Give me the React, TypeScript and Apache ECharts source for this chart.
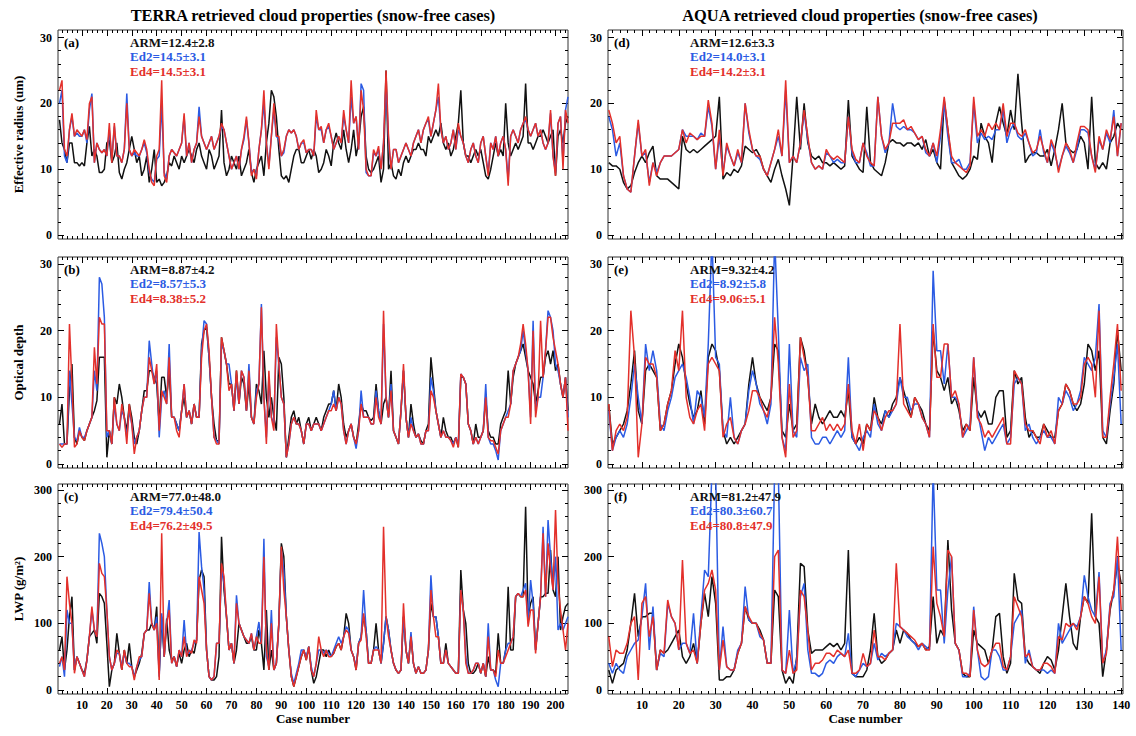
import React, { useEffect, useRef } from 'react';
import * as echarts from 'echarts';

// ---------------- DATA ----------------
const terraXTicks = [10, 20, 30, 40, 50, 60, 70, 80, 90, 100, 110, 120, 130, 140, 150, 160, 170, 180, 190, 200];
const aquaXTicks = [10, 20, 30, 40, 50, 60, 70, 80, 90, 100, 110, 120, 130, 140];
const reTicks = [0, 10, 20, 30];
const tauTicks = [0, 10, 20, 30];
const lwpTicks = [0, 100, 200, 300];

const terraTitle = 'TERRA retrieved cloud properties (snow-free cases)';
const aquaTitle = 'AQUA retrieved cloud properties (snow-free cases)';
const yNames = ['Effective radius (um)', 'Optical depth', 'LWP (g/m²)'];
const panelLetters = ['(a)', '(b)', '(c)', '(d)', '(e)', '(f)'];
const statsArm = ['ARM=12.4±2.8', 'ARM=8.87±4.2', 'ARM=77.0±48.0', 'ARM=12.6±3.3', 'ARM=9.32±4.2', 'ARM=81.2±47.9'];
const statsEd2 = ['Ed2=14.5±3.1', 'Ed2=8.57±5.3', 'Ed2=79.4±50.4', 'Ed2=14.0±3.1', 'Ed2=8.92±5.8', 'Ed2=80.3±60.7'];
const statsEd4 = ['Ed4=14.5±3.1', 'Ed4=8.38±5.2', 'Ed4=76.2±49.5', 'Ed4=14.2±3.1', 'Ed4=9.06±5.1', 'Ed4=80.8±47.9'];

// TERRA effective radius
const terraReArm = [
  17.5, 14, 13, 11, 14, 14, 11, 11, 10.5, 11,
  10.5, 14, 16.5, 12, 13, 12, 9.5, 9.5, 10, 14,
  14.5, 11, 12, 14, 9.5, 8.5, 10, 11, 13, 15,
  13, 11, 12, 9, 10, 12, 8, 10, 13, 8,
  8.5, 7.5, 8, 9, 11, 10.5, 12, 11, 10, 12,
  11, 12, 13, 12, 11, 13, 14, 12, 11, 10,
  13, 12, 10, 11, 12, 19, 11, 9, 10, 12,
  11, 10, 12, 9, 10, 11, 13, 9.5, 8, 10,
  11, 12, 9, 14, 17, 22, 21, 18, 13, 9,
  8.5, 9, 8, 10, 12, 13, 13, 11, 11, 12,
  13, 11.5, 13, 12, 9.5, 10, 11, 13, 12, 10.5,
  14, 15.5, 14, 13, 16, 13, 11, 13, 16, 12,
  14, 18, 19.5, 12, 10, 9.5, 10, 11, 12, 8,
  10, 25, 10, 11, 9, 8.5, 10, 9, 11, 12,
  11, 12, 13, 13, 14, 13, 13, 12, 15, 14,
  15, 16, 15, 17, 14, 13, 14, 12, 13, 15,
  17, 22, 14, 12, 12, 11, 12, 13, 12, 13,
  11, 9, 8.5, 10, 12, 14, 12, 13, 12, 20,
  14, 12, 13, 14, 13, 14, 15, 23, 14, 14,
  13, 14, 15, 15, 16, 15, 14, 15, 16, 9,
  15, 16, 14, 17, 18,
];
const terraReEd2 = [
  20, 22, 12, 11, 16, 18, 15, 15.5, 15, 15,
  16, 14, 19, 21.5, 11, 14, 13, 12.5, 13, 12,
  16, 11.5, 16.5, 12, 12, 11, 13, 21.5, 13, 12,
  12.5, 12, 12, 13, 14, 12.5, 9.5, 8.5, 8, 11.5,
  12, 20, 9.5, 8.5, 12, 13, 12.5, 12, 13, 14,
  18, 12, 14, 11, 13, 14, 19.5, 15, 14, 13,
  14, 15, 13, 14, 15, 16.5, 16, 14, 12, 10,
  11, 12, 10, 13, 14.5, 17.5, 14, 9.5, 10, 9,
  13, 16, 20, 14, 10.5, 15, 19, 15, 14.5, 12,
  12.5, 15, 16, 15.5, 16, 15, 13, 14, 14, 12.5,
  13, 13, 12, 18, 16, 16, 14, 16, 16.5, 15,
  13, 14, 15, 14, 18, 16, 14, 21, 17, 18,
  13, 23, 22, 9.5, 9, 9, 12.5, 12, 13, 10,
  14, 23, 14.5, 10, 13, 13, 11, 12, 13, 14,
  13, 12, 14, 15, 16, 14, 16, 17, 17.5, 15,
  17, 19, 21, 16, 14, 15, 13, 14, 16, 13,
  16, 15, 14, 12, 11, 13, 14, 12, 11, 14,
  15, 12, 9.5, 14, 13, 15, 12, 14, 15, 13,
  8.5, 15, 16, 15, 14, 16, 17, 17.5, 16, 15,
  16, 17, 15, 16, 14, 13, 14, 18.5, 12, 9.5,
  17, 18, 11, 19, 21,
];
const terraReEd4 = [
  22, 23.5, 13, 12, 16, 18.5, 15, 16, 15.5, 15,
  16, 14.5, 20, 21, 11, 14, 13, 12.5, 13, 12,
  17, 11, 17, 12, 12, 11, 13, 20, 13, 12,
  13, 12.5, 12, 13, 14.5, 13, 10, 8, 7.5, 12,
  13, 23.5, 9, 8, 12, 13, 12.5, 12, 13, 14,
  18.5, 12, 14, 11, 13, 14, 18, 15, 14, 13,
  14, 15, 13, 14, 15, 17, 16, 14, 12, 10,
  11, 12, 10, 13, 15, 18, 14, 9, 10, 8.5,
  13, 16, 22, 14, 10, 15, 20, 15, 15, 12,
  13, 15, 16, 15.5, 16, 15, 13, 14, 14.5, 12.5,
  13, 13, 12, 19, 16, 16.5, 14, 16, 17, 15,
  13, 14, 15, 14, 19, 16, 14, 23.5, 17, 18,
  13, 22, 19, 10, 9, 9, 13, 12, 13.5, 10,
  14, 25, 15, 10, 13, 13, 11, 12, 13, 14,
  13, 12, 14, 15, 16, 14, 16, 17, 18, 15,
  17, 19, 23, 16, 14, 15, 13, 14, 16, 13,
  17, 15, 14, 12, 11, 13, 14, 12, 11, 14,
  15, 12, 9, 14, 13, 15, 12, 14, 15, 13,
  7.5, 15, 16, 15, 14, 16, 17, 18, 16, 15,
  16, 17, 15, 16, 14, 13, 14, 19, 12, 9,
  17, 18, 10, 19, 17,
];

// TERRA optical depth
const terraTauArm = [
  6, 9, 3, 3, 11, 15, 4, 3, 5, 4,
  3.5, 5, 6, 7, 8, 9.5, 16, 16, 16, 1,
  5, 3, 10, 9, 12, 10, 7, 5, 9, 7,
  4, 3, 5, 8, 11, 11, 14, 14, 13, 12,
  6, 13, 13, 10, 14, 7, 7, 6, 5, 8,
  10, 7, 8, 6, 9, 7, 7, 18, 20, 20.5,
  16, 10, 6, 3.5, 3.5, 19, 17, 15, 12, 12,
  8, 14, 9, 13, 12, 8, 12, 7, 6, 12,
  11, 9, 17, 10, 7, 10, 7, 5, 16, 15,
  10, 1, 4, 7, 8, 6, 7, 5, 3, 6,
  7, 5, 6, 7, 6, 5, 7, 8, 9, 9,
  11, 8, 12, 10, 6, 4, 5, 6, 4, 3,
  6, 9, 8, 8, 7, 6.5, 7, 12, 8, 6,
  9, 10, 7, 14, 5, 4, 3, 8, 14, 7,
  4, 9, 6, 4, 4.5, 3.5, 3, 5, 6, 16,
  12, 8, 6, 4, 7, 5, 4, 4, 3, 4,
  2.5, 13, 13, 12, 6, 5, 3, 6, 4, 4,
  5, 10, 5, 4, 4, 3, 3, 6, 7, 8,
  14, 9, 13, 15, 16, 17, 18, 16, 14, 13,
  12, 9, 11, 13, 13, 16, 17, 15, 17, 14,
  15, 12, 10, 13, 8,
];
const terraTauEd2 = [
  3, 3, 3, 3, 14, 9, 4, 3.5, 5.5, 4,
  4, 5, 6, 7, 14, 11, 28, 27, 22, 4,
  5, 3, 9, 6, 5, 8, 7, 4, 8, 6,
  3, 4, 5, 8, 10, 10, 18.5, 15, 12, 14,
  4, 10, 11, 9, 18, 7, 7, 6, 5, 8,
  12, 7, 8, 6, 9, 7, 7, 17, 21.5, 21,
  16, 10, 4, 3.5, 3, 18, 17, 15, 15, 12,
  8, 13, 9, 14, 13, 8, 15, 7, 6, 11,
  12, 24, 10, 4, 13, 7, 6, 19, 15, 10,
  9, 1, 3, 6, 7, 6, 6, 5, 3, 6,
  6, 5, 6, 6, 6, 5, 6, 7, 8, 9,
  11, 8, 10, 9, 5, 3, 5, 6, 4, 2.3,
  5, 11, 7, 7, 7, 6, 6, 11, 8, 6,
  21, 10, 7, 12, 5, 4, 3, 8, 14, 7,
  4, 7, 5, 4, 4.5, 3, 3, 5, 5, 13,
  11, 8, 6, 4, 5, 4, 4, 3.5, 3, 4,
  3, 13.5, 13, 12, 6, 5, 3, 4, 3, 4,
  5, 12, 4, 3, 3, 2, 0.6, 5, 6, 7,
  8, 9, 14, 15, 16, 17, 20, 17, 14, 7,
  21.5, 8, 10, 10, 13, 17, 23, 22, 20, 15,
  14, 12, 10, 13, 7,
];
const terraTauEd4 = [
  3, 2.5, 3, 3, 21, 12, 2.5, 3, 5, 4,
  3.5, 5, 6, 7, 17.5, 12, 22, 21, 21, 5,
  5, 3, 10, 6, 5, 9, 7, 3, 9, 6,
  1.5, 4, 5, 8, 10, 10, 16, 14, 12, 15,
  5, 11, 10, 9, 16, 7, 7, 5, 4, 8,
  12, 7, 8, 6, 9, 7, 7, 16, 20, 21,
  17, 10, 4, 3, 3, 19, 17, 15, 11, 12,
  8, 14, 9, 14, 13, 8, 14, 7, 6, 10,
  12, 23.5, 10, 3, 14, 7, 5, 21, 15, 10,
  9, 1, 3, 6, 7, 6, 6, 5, 3, 6,
  6, 5, 6, 6, 6, 5, 6, 7, 8, 8,
  9, 8, 10, 9, 5, 3, 5, 6, 4, 3,
  5, 9, 7, 7, 7, 6, 6, 10, 7, 6,
  23, 10, 7, 11, 5, 4, 3, 8, 15, 7,
  4, 6, 5, 4, 4.5, 3, 3, 5, 5, 11,
  10, 8, 6, 4, 5, 4, 4, 3.5, 2.5, 4,
  2.5, 13.5, 13, 12, 6, 5, 3, 4, 3, 4,
  5, 10, 4, 3.5, 3.5, 2.5, 1.5, 5, 6, 7,
  7, 9, 14, 15, 16, 18, 21, 18, 14, 6,
  20, 7, 10, 21.5, 13, 17, 22, 22, 19, 17,
  15, 12, 10, 13, 5,
];

// TERRA LWP
const terraLwpArm = [
  60, 80, 30, 60, 110, 140, 30, 50, 40, 30,
  25, 45, 80, 85, 90, 70, 145, 140, 130, 70,
  5, 30, 40, 85, 55, 30, 60, 40, 70, 35,
  20, 30, 40, 55, 85, 90, 90, 100, 90, 125,
  25, 110, 50, 107, 60, 45, 50, 35, 55, 40,
  60, 70, 50, 60, 55, 75, 165, 180, 170, 60,
  20, 15, 15, 20, 50, 230, 150, 110, 60, 70,
  40, 60, 100, 90, 80, 70, 70, 80, 60, 60,
  90, 70, 30, 120, 30, 60, 30, 40, 100, 220,
  200, 110, 60, 20, 5, 20, 35, 50, 60, 45,
  65, 30, 10, 20, 40, 60, 60, 50, 60, 50,
  55, 65, 70, 60, 80, 115, 100, 60, 50, 30,
  70, 80, 110, 90, 40, 40, 60, 100, 60, 40,
  70, 110, 90, 60, 40, 30, 25, 30, 110, 60,
  40, 80, 40, 25, 35, 25, 25, 30, 60, 130,
  110, 110, 80, 40, 40, 70, 40, 35, 30, 25,
  25, 180, 120, 100, 40, 25, 25, 30, 40, 25,
  40, 20, 50, 30, 30, 25, 85, 40, 40, 60,
  155, 60, 60, 140, 145, 140, 140, 275, 110, 130,
  140, 60, 100, 140, 140, 145, 145, 210, 150, 140,
  200, 90, 110, 125, 130,
];
const terraLwpEd2 = [
  35, 50, 20, 120, 100, 100, 30, 50, 40, 30,
  20, 45, 80, 120, 90, 80, 235, 220, 200, 120,
  50, 30, 40, 55, 55, 35, 55, 40, 40, 35,
  20, 35, 45, 50, 85, 90, 162, 100, 90, 110,
  20, 115, 50, 100, 135, 40, 50, 35, 60, 50,
  105, 55, 55, 60, 70, 75, 237, 185, 150, 60,
  20, 15, 20, 70, 70, 180, 160, 110, 60, 70,
  40, 142, 100, 90, 80, 75, 70, 85, 60, 80,
  102, 70, 227, 50, 35, 120, 30, 40, 100, 210,
  180, 110, 60, 25, 10, 25, 40, 60, 60, 50,
  65, 35, 20, 40, 60, 60, 55, 60, 55, 50,
  60, 70, 80, 70, 80, 95, 90, 60, 50, 35,
  70, 80, 150, 90, 40, 40, 60, 65, 60, 40,
  70, 110, 90, 60, 40, 30, 25, 30, 110, 60,
  40, 87, 40, 25, 35, 25, 25, 30, 60, 172,
  110, 110, 80, 40, 40, 60, 40, 35, 30, 25,
  25, 150, 120, 50, 25, 25, 30, 40, 40, 25,
  40, 20, 100, 30, 30, 15, 5, 40, 40, 60,
  70, 70, 80, 140, 145, 140, 150, 160, 100, 165,
  130, 60, 100, 140, 245, 140, 255, 200, 150, 200,
  90, 100, 90, 100, 110,
];
const terraLwpEd4 = [
  40, 50, 30, 170, 130, 100, 25, 50, 40, 30,
  20, 45, 80, 125, 90, 80, 190, 175, 170, 120,
  50, 30, 40, 60, 55, 30, 60, 40, 35, 35,
  15, 35, 50, 50, 85, 90, 145, 100, 90, 100,
  15, 235, 50, 100, 120, 40, 50, 35, 60, 50,
  80, 50, 60, 55, 75, 70, 170, 150, 130, 60,
  20, 15, 20, 70, 70, 190, 170, 110, 60, 70,
  40, 130, 100, 90, 80, 75, 70, 85, 60, 80,
  70, 70, 200, 60, 30, 100, 30, 40, 100, 215,
  150, 110, 60, 20, 5, 20, 35, 50, 60, 45,
  65, 30, 20, 40, 80, 60, 50, 60, 50, 50,
  55, 65, 70, 60, 80, 90, 85, 60, 50, 30,
  70, 75, 115, 80, 40, 40, 60, 60, 60, 40,
  245, 110, 80, 60, 40, 30, 25, 30, 130, 60,
  40, 80, 40, 25, 35, 25, 25, 30, 60, 150,
  110, 80, 80, 40, 40, 60, 40, 35, 30, 25,
  25, 150, 120, 40, 25, 25, 30, 40, 40, 25,
  40, 20, 80, 30, 30, 20, 60, 40, 40, 50,
  60, 70, 80, 140, 145, 140, 140, 150, 95, 120,
  120, 55, 100, 140, 235, 140, 220, 180, 150, 270,
  160, 120, 90, 60, 100,
];

// AQUA effective radius
const aquaReArm = [
  11, 10.5, 10.5, 10, 8, 7, 7.5, 9.5, 11, 12,
  11, 12.5, 13.5, 9, 8.5, 8.5, 8.5, 8, 7.5, 7,
  15, 13, 12.5, 13, 12.5, 13, 13.5, 14, 14.5, 15,
  21, 8.5, 9.5, 9, 10, 9.5, 10.5, 13.5, 13, 12.5,
  13, 12, 10, 9, 8, 10, 11.5, 9, 7, 4.5,
  12, 21, 13, 20, 14, 12, 11.5, 12, 11, 11,
  10.5, 11, 10.5, 10, 10.5, 20.5, 12, 11, 10, 9.5,
  19.5, 11, 10, 9.5, 9, 11, 14, 14.5, 14, 14,
  13.5, 14, 14, 13.5, 14, 13, 14.5, 12, 13, 11,
  10, 20.5, 16, 11, 10, 9, 8.5, 9, 10, 12,
  11.5, 17, 15, 14, 11, 17, 19.5, 17, 15, 19,
  16, 24.5, 17, 11, 12, 12.5, 12.5, 12, 12, 13,
  10.5, 13, 16, 20, 14, 13, 12.5, 13, 15, 14,
  10, 21, 11, 10, 11, 10, 14, 15, 17, 16,
];
const aquaReEd2 = [
  18, 16, 12, 14, 9, 7, 6.5, 12, 17, 12,
  12.5, 8, 11, 9.5, 11, 12, 12, 12, 12.5, 13,
  16, 15, 15, 15, 14.5, 15.5, 15, 19.5, 16.5, 10,
  15, 9.5, 13.5, 12, 10.5, 12.5, 11, 20, 15.5, 13,
  12, 11.5, 10, 9, 11, 13, 15, 12, 22, 11,
  12, 11, 14, 18.5, 14.5, 11, 10, 10.5, 10, 12.5,
  12, 11, 11.5, 11, 11, 18, 12.5, 11, 11, 14,
  12.5, 10.5, 10.5, 21, 15, 12.5, 14, 20, 16.5, 16,
  16.5, 16, 16, 15.5, 14.5, 15, 12.5, 12, 14, 11,
  15, 20, 15, 11, 11, 11.5, 10, 10, 11, 20,
  14, 15.5, 14.5, 15, 14.5, 16, 16, 19, 14, 16,
  17, 15, 14.5, 15.5, 14, 12, 12.5, 16, 12.5, 11,
  14, 12.5, 10, 12, 13.5, 12.5, 11, 13, 16, 16,
  15.5, 12, 10, 14.5, 13, 15.5, 14, 19, 12, 17,
];
const aquaReEd4 = [
  19, 17, 14, 15, 9, 7, 6.5, 12, 17.5, 12,
  13, 7.5, 11, 9, 11, 12, 12, 12, 12.5, 13,
  16, 14, 15.5, 15, 14.5, 15, 15, 20.5, 17, 10,
  16, 9, 14, 12, 10.5, 13, 11, 20, 16, 13,
  12, 12, 10, 9, 11, 13, 16, 12, 23.5, 11,
  12, 11, 14, 19, 15, 11, 10, 10.5, 10, 13,
  12, 11.5, 12, 11.5, 11, 18, 13, 11.5, 11, 14,
  12, 11, 10.5, 21, 15, 13, 14, 17, 17, 17,
  17.5, 16, 16.5, 15.5, 14.5, 15, 13, 12, 14, 12,
  16, 21, 16, 12, 11, 10.5, 10, 9.5, 10.5, 21,
  15, 16, 15, 17, 16, 17, 16, 20, 15, 17,
  17, 15.5, 15, 16, 14, 12.5, 13, 15, 13, 11,
  14.5, 13, 9.5, 12, 14, 13, 11, 14, 16.5, 16.5,
  16, 12, 9.5, 15, 13, 16, 14.5, 18, 12, 17,
];

// AQUA optical depth
const aquaTauArm = [
  9, 3, 4, 5, 6, 8, 12, 17, 8, 6,
  14, 15, 14, 13, 5, 6, 9, 11, 15, 18,
  16, 12, 9, 7, 8, 11, 6, 16, 18, 17,
  14, 5, 3, 4, 3, 4, 5, 6, 12, 16,
  12, 10, 9, 8, 10, 18, 17, 5, 4, 9,
  5, 6, 19, 17, 13, 6, 9, 7, 6, 7,
  8, 7, 7, 8, 7, 11, 4, 3, 4, 3,
  6, 5, 10, 7, 6, 8, 7, 9, 10, 13,
  11, 9, 7, 10, 9, 8, 6, 5, 20, 14,
  13, 11, 13, 9, 10, 8, 5, 6, 5, 13,
  8, 7, 8, 6, 6, 10, 11, 11, 4, 5,
  14, 12, 13, 7, 4, 5, 4, 4, 6, 5,
  4, 4, 8, 9, 12, 11, 9, 8, 9, 12,
  18, 17, 14, 17, 4, 3, 8, 12, 20, 14,
];
const aquaTauEd2 = [
  8, 2, 4, 5, 4, 6, 10, 15, 10, 6,
  18, 14, 17, 14, 6, 5, 8, 10, 13, 14,
  15, 13, 10, 6, 11, 10, 7, 18, 34, 16,
  15, 5, 4, 10, 4, 3, 5, 6, 11, 14,
  12, 9, 8, 6, 9, 34, 20, 4, 2, 18,
  5, 4, 16, 14, 15, 4, 3, 3, 4, 4,
  3, 4, 5, 4, 5, 16, 4, 3, 2, 4,
  5, 4, 9, 6, 5, 8, 7, 8, 9, 13,
  10, 10, 8, 9, 9, 7, 6, 4, 29, 17,
  17, 12, 18, 10, 10, 9, 4, 5, 6, 16,
  8, 5, 2, 4, 3, 4, 5, 6, 3, 4,
  12, 13, 12, 5, 6, 4, 3, 4, 5, 4,
  4, 3, 10, 9, 11, 10, 8, 9, 11, 16,
  15, 14, 16, 24, 5, 4, 9, 13, 18, 6,
];
const aquaTauEd4 = [
  9, 2, 5, 6, 5, 7, 23, 16, 1, 6,
  16, 15, 15, 13, 5, 6, 9, 11, 17, 14,
  23, 10, 7, 6, 8, 9, 5, 15, 16, 15,
  14, 4, 6, 7, 4, 3, 5, 6, 8, 11,
  11, 10, 8, 7, 10, 22, 15, 4, 1, 12,
  4, 5, 19, 16, 13, 5, 5, 6, 7, 5,
  6, 5, 6, 5, 6, 12, 5, 3, 6, 2,
  6, 5, 8, 7, 5, 7, 8, 8, 9, 21,
  9, 8, 7, 10, 9, 7, 6, 4, 21, 13,
  13, 18, 18, 10, 11, 9, 4, 6, 5, 16,
  7, 6, 4, 5, 4, 5, 6, 7, 3, 3,
  14, 13, 12, 6, 5, 5, 4, 3, 6, 4,
  5, 3, 8, 9, 12, 11, 9, 9, 10, 15,
  16, 15, 10, 23, 4, 4, 10, 15, 21, 11,
];

// AQUA LWP
const aquaLwpArm = [
  30, 10, 30, 35, 40, 60, 100, 145, 80, 110,
  110, 115, 115, 30, 60, 55, 60, 70, 80, 90,
  50, 40, 50, 70, 40, 100, 145, 110, 170, 130,
  15, 15, 20, 20, 30, 55, 70, 125, 105, 100,
  100, 90, 75, 40, 40, 150, 140, 30, 10, 20,
  10, 50, 190, 185, 90, 55, 60, 60, 60, 65,
  70, 65, 70, 60, 70, 210, 25, 20, 20, 20,
  30, 60, 115, 50, 40, 45, 55, 60, 90, 70,
  90, 85, 75, 70, 65, 70, 60, 65, 140, 70,
  90, 80, 225, 120, 70, 60, 25, 20, 20, 90,
  70, 65, 60, 40, 60, 110, 115, 50, 25, 40,
  175, 135, 130, 50, 40, 35, 30, 25, 40, 50,
  45, 30, 60, 110, 160, 110, 70, 60, 110, 140,
  130, 265, 110, 100, 20, 60, 120, 150, 190, 160,
];
const aquaLwpEd2 = [
  40, 25, 40, 30, 25, 50, 60, 70, 75, 110,
  160, 60, 125, 30, 55, 50, 130, 110, 100, 60,
  70, 70, 55, 115, 40, 110, 180, 170, 330, 330,
  30, 95, 35, 30, 30, 60, 70, 155, 105, 100,
  100, 80, 75, 40, 40, 330, 330, 30, 25, 120,
  25, 45, 140, 160, 60, 25, 25, 20, 25, 40,
  45, 40, 50, 55, 50, 85, 25, 20, 30, 40,
  35, 40, 70, 45, 55, 50, 55, 60, 100, 95,
  90, 80, 75, 70, 60, 70, 65, 60, 330, 150,
  150, 70, 150, 200, 70, 60, 20, 20, 25, 125,
  60, 20, 15, 20, 60, 60, 50, 30, 30, 50,
  100, 110, 120, 40, 60, 35, 30, 30, 30, 25,
  30, 25, 100, 70, 80, 90, 100, 95, 110, 172,
  140, 120, 110, 177, 40, 60, 130, 140, 200, 60,
];
const aquaLwpEd4 = [
  80, 35, 60, 55, 55, 70, 100, 110, 15, 130,
  140, 80, 110, 30, 60, 55, 135, 110, 100, 60,
  195, 70, 55, 60, 40, 100, 150, 160, 180, 150,
  30, 75, 35, 30, 30, 55, 70, 125, 110, 100,
  100, 85, 75, 40, 40, 200, 210, 30, 25, 60,
  25, 30, 150, 140, 90, 30, 40, 40, 45, 55,
  55, 50, 60, 55, 50, 60, 25, 25, 30, 55,
  35, 40, 90, 50, 50, 45, 55, 60, 190, 95,
  90, 85, 80, 75, 65, 70, 60, 60, 215, 130,
  110, 80, 210, 200, 70, 60, 25, 25, 20, 120,
  60, 40, 35, 40, 60, 70, 70, 35, 30, 50,
  140, 125, 110, 50, 55, 35, 30, 30, 40, 40,
  35, 25, 80, 75, 100, 95, 100, 90, 110, 140,
  130, 110, 100, 170, 40, 55, 125, 150, 230, 120,
];

// ---------------- CHART ----------------
const FONT = "'Liberation Serif', 'Times New Roman', serif";
const C_ARM = '#111111';
const C_ED2 = '#2b5be3';
const C_ED4 = '#e3302b';

const cols = [
  { left: 58, width: 510, xmin: 0.4, xmax: 205, major: terraXTicks, titleX: 313 },
  { left: 608, width: 515, xmin: 0.8, xmax: 140.5, major: aquaXTicks, titleX: 860 },
];
const rows = [
  { top: 30, height: 209, ymin: -0.6, ymax: 31.15, major: reTicks, minorStep: 2 },
  { top: 257, height: 211, ymin: -0.6, ymax: 31.05, major: tauTicks, minorStep: 2 },
  { top: 484, height: 210, ymin: -6, ymax: 309, major: lwpTicks, minorStep: 20 },
];

function minorList(lo: number, hi: number, step: number, majors: number[]) {
  const out: number[] = [];
  for (let v = 0; v <= hi + 1e-9; v += step) {
    if (v < lo) continue;
    const r = Math.round(v * 1000) / 1000;
    if (majors.indexOf(r) >= 0) continue;
    out.push(r);
  }
  return out;
}

const seriesData: number[][][] = [
  [terraReArm, terraReEd2, terraReEd4],
  [terraTauArm, terraTauEd2, terraTauEd4],
  [terraLwpArm, terraLwpEd2, terraLwpEd4],
  [aquaReArm, aquaReEd2, aquaReEd4],
  [aquaTauArm, aquaTauEd2, aquaTauEd4],
  [aquaLwpArm, aquaLwpEd2, aquaLwpEd4],
];

function buildOption() {
  const grid: any[] = [];
  const xAxis: any[] = [];
  const yAxis: any[] = [];
  const series: any[] = [];
  const graphic: any[] = [];
  const tickLine = { color: '#000', width: 1 };
  const labelStyle = { fontFamily: FONT, fontWeight: 'bold', fontSize: 12, color: '#000' };

  for (let c = 0; c < 2; c++) {
    for (let r = 0; r < 3; r++) {
      const p = c * 3 + r;
      const col = cols[c];
      const row = rows[r];
      grid.push({
        left: col.left, top: row.top, width: col.width, height: row.height,
        show: true, borderColor: '#333', borderWidth: 1, backgroundColor: '#fff', containLabel: false,
      });
      const xMinor = minorList(col.xmin, col.xmax, 2, col.major);
      const yMinor = minorList(row.ymin, row.ymax, row.minorStep, row.major);
      const xBase = {
        type: 'value', gridIndex: p, min: col.xmin, max: col.xmax,
        axisLine: { show: false, onZero: false }, splitLine: { show: false },
      };
      const yBase = {
        type: 'value', gridIndex: p, min: row.ymin, max: row.ymax,
        axisLine: { show: false, onZero: false }, splitLine: { show: false },
      };
      const bottomRow = r === 2;
      xAxis.push({
        ...xBase, position: 'bottom',
        axisTick: { show: true, inside: true, length: 6, customValues: col.major, lineStyle: tickLine },
        axisLabel: { show: bottomRow, customValues: col.major, margin: 5, ...labelStyle },
        name: bottomRow ? 'Case number' : '', nameLocation: 'middle', nameGap: 15,
        nameTextStyle: { fontFamily: FONT, fontWeight: 'bold', fontSize: 13, color: '#000' },
      });
      xAxis.push({
        ...xBase, position: 'bottom',
        axisTick: { show: true, inside: true, length: 3, customValues: xMinor, lineStyle: tickLine },
        axisLabel: { show: false },
      });
      xAxis.push({
        ...xBase, position: 'top',
        axisTick: { show: true, inside: true, length: 6, customValues: col.major, lineStyle: tickLine },
        axisLabel: { show: false },
      });
      xAxis.push({
        ...xBase, position: 'top',
        axisTick: { show: true, inside: true, length: 3, customValues: xMinor, lineStyle: tickLine },
        axisLabel: { show: false },
      });
      yAxis.push({
        ...yBase, position: 'left',
        axisTick: { show: true, inside: true, length: 6, customValues: row.major, lineStyle: tickLine },
        axisLabel: { show: true, customValues: row.major, margin: 6, ...labelStyle },
        name: c === 0 ? yNames[r] : '', nameLocation: 'middle', nameGap: 33, nameRotate: 90,
        nameTextStyle: { fontFamily: FONT, fontWeight: 'bold', fontSize: 13, color: '#000' },
      });
      yAxis.push({
        ...yBase, position: 'left',
        axisTick: { show: true, inside: true, length: 3, customValues: yMinor, lineStyle: tickLine },
        axisLabel: { show: false },
      });
      yAxis.push({
        ...yBase, position: 'right',
        axisTick: { show: true, inside: true, length: 6, customValues: row.major, lineStyle: tickLine },
        axisLabel: { show: false },
      });
      yAxis.push({
        ...yBase, position: 'right',
        axisTick: { show: true, inside: true, length: 3, customValues: yMinor, lineStyle: tickLine },
        axisLabel: { show: false },
      });

      const names = ['ARM', 'Ed2', 'Ed4'];
      const colors = [C_ARM, C_ED2, C_ED4];
      for (let s = 0; s < 3; s++) {
        series.push({
          type: 'line', name: names[s], xAxisIndex: p * 4, yAxisIndex: p * 4,
          data: seriesData[p][s].map((v, i) => [i + 1, v]),
          showSymbol: false, symbol: 'none', clip: true,
          lineStyle: { color: colors[s], width: 1.5 },
          itemStyle: { color: colors[s] },
          z: 2 + s,
        });
      }

      const letterX = col.left + 6;
      const statX = col.left + (c === 0 ? 72 : 82);
      const ty = row.top + 12;
      const txt = (text: string, x: number, y: number, fill: string) => ({
        type: 'text', x, y, z: 100,
        style: { text, fill, fontFamily: FONT, fontWeight: 'bold', fontSize: 13, align: 'left', verticalAlign: 'middle' },
      });
      graphic.push(txt(panelLetters[p], letterX, ty, '#000'));
      graphic.push(txt(statsArm[p], statX, ty, C_ARM));
      graphic.push(txt(statsEd2[p], statX, ty + 14.5, C_ED2));
      graphic.push(txt(statsEd4[p], statX, ty + 29, C_ED4));
    }
  }
  const titles = [terraTitle, aquaTitle];
  for (let c = 0; c < 2; c++) {
    graphic.push({
      type: 'text', x: cols[c].titleX, y: 15, z: 100,
      style: { text: titles[c], fill: '#000', fontFamily: FONT, fontWeight: 'bold', fontSize: 16.4, align: 'center', verticalAlign: 'middle' },
    });
  }
  return {
    animation: false,
    backgroundColor: '#fff',
    grid, xAxis, yAxis, series, graphic,
    tooltip: { show: false },
  };
}

export default function App() {
  const ref = useRef<HTMLDivElement>(null);
  useEffect(() => {
    document.body.style.margin = '0';
    if (!ref.current) return;
    const chart = echarts.init(ref.current, undefined, { renderer: 'svg' });
    chart.setOption(buildOption() as any);
    return () => chart.dispose();
  }, []);
  return <div ref={ref} style={{ position: 'absolute', left: 0, top: 0, width: 1136, height: 736, background: '#fff' }} />;
}
